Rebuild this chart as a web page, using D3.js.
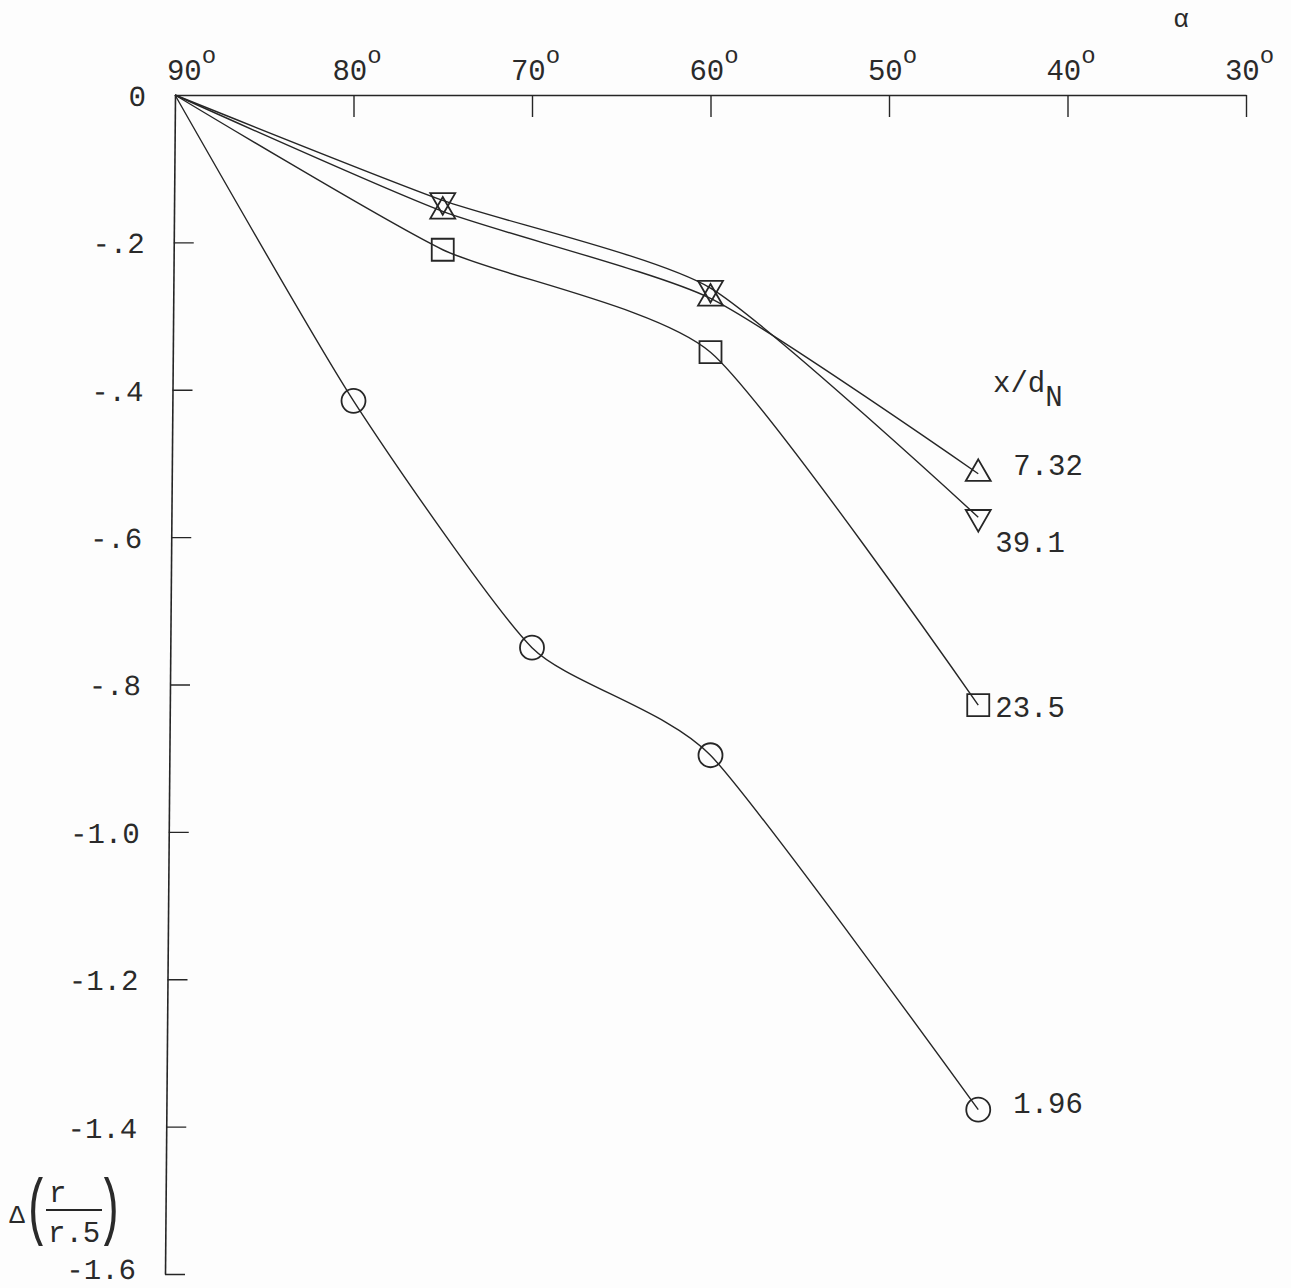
<!DOCTYPE html>
<html>
<head>
<meta charset="utf-8">
<script src="https://cdn.jsdelivr.net/npm/d3@7"></script>
<style>
  html, body { margin: 0; padding: 0; background: #fdfdfd; }
  svg { display: block; }
  text { font-family: "Liberation Mono", "DejaVu Sans Mono", monospace; fill: #2a2a2a; }
</style>
</head>
<body>
<svg id="chart" width="1291" height="1288"></svg>
<script>
// Angle ticks along the top axis (degrees) and value ticks on the left axis
const angleTicks = [90, 80, 70, 60, 50, 40, 30];
const valueTicks = [0, -0.2, -0.4, -0.6, -0.8, -1.0, -1.2, -1.4, -1.6];

// x/d_N stations and their measured Δ(r/r.5) against jet angle α
const seriesNames = ["1.96", "23.5", "7.32", "39.1"];
const seriesSymbols = ["circle", "square", "triangleUp", "triangleDown"];
const anglesCircle = [90, 80, 70, 60, 45];
const valuesCircle = [0, -0.415, -0.750, -0.896, -1.377];
const anglesSquare = [90, 75, 60, 45];
const valuesSquare = [0, -0.210, -0.349, -0.828];
const anglesUp = [90, 75, 60, 45];
const valuesUp = [0, -0.158, -0.276, -0.514];
const anglesDown = [90, 75, 60, 45];
const valuesDown = [0, -0.143, -0.262, -0.573];

const seriesAngles = [anglesCircle, anglesSquare, anglesUp, anglesDown];
const seriesValues = [valuesCircle, valuesSquare, valuesUp, valuesDown];

const svg = d3.select("#chart");
const ink = "#262626";

const x = d3.scaleLinear().domain([90, 30]).range([175, 1246]);
const y = d3.scaleLinear().domain([0, -1.6]).range([95, 1274]);

// ---- top (angle) axis: ticks hang below the line, labels above ----
const xAxis = d3.axisTop(x)
  .tickValues(angleTicks)
  .tickSizeInner(-22)
  .tickSizeOuter(0)
  .tickPadding(15)
  .tickFormat(d => d);

const gx = svg.append("g").attr("transform", `translate(0,${y(0)})`).call(xAxis);
gx.select(".domain").attr("stroke", ink).attr("stroke-width", 1.6);
gx.selectAll(".tick line").attr("stroke", ink).attr("stroke-width", 1.4)
  .filter(d => d === 90).remove();
gx.selectAll(".tick text")
  .attr("font-size", 29)
  .attr("font-family", "Liberation Mono")
  .attr("fill", "#333")
  .attr("text-anchor", "middle")
  .each(function (d) {
    const t = d3.select(this);
    t.text(null);
    t.attr("x", d === 90 ? 16 : 3);
    t.append("tspan").text(d);
    t.append("tspan").attr("font-size", 24).attr("dy", -17).text("o");
  });

svg.append("text")
  .attr("x", 1181).attr("y", 27)
  .attr("font-family", "Liberation Serif")
  .attr("font-size", 26)
  .attr("fill", "#888")
  .attr("text-anchor", "middle")
  .text("α");

// ---- left (value) axis: ticks point into the plot ----
const fmt = v => {
  if (v === 0) return "0";
  const a = Math.abs(v).toFixed(1);
  return "-" + (Math.abs(v) < 1 ? a.slice(1) : a);
};
const yAxis = d3.axisLeft(y)
  .tickValues(valueTicks)
  .tickSizeInner(-20)
  .tickSizeOuter(0)
  .tickPadding(29)
  .tickFormat(fmt);

// the printed axis leans a few pixels toward the bottom
const lean = Math.atan(-10 / (y(-1.6) - y(0))) * 180 / Math.PI;
const gy = svg.append("g")
  .attr("transform", `translate(${x(90)},${y(0)}) skewX(${lean}) translate(0,${-y(0)})`)
  .call(yAxis);
gy.select(".domain").attr("stroke", ink).attr("stroke-width", 1.6);
gy.selectAll(".tick line").attr("stroke", ink).attr("stroke-width", 1.4)
  .filter(d => d === 0).remove();
gy.selectAll(".tick text")
  .attr("font-size", 29)
  .attr("font-family", "Liberation Mono")
  .attr("fill", "#333")
  .attr("dy", d => d === -1.6 ? "0.17em" : "0.36em");

// y-axis title Δ(r / r.5); the tall parentheses are stretched vertically
const ty = svg.append("g");
ty.append("text").attr("x", 17).attr("y", 1223).attr("font-size", 26)
  .attr("font-family", "DejaVu Sans").attr("fill", "#333")
  .attr("text-anchor", "middle").text("Δ");
[["(", 37], [")", 110]].forEach(([ch, cx]) => {
  ty.append("g")
    .attr("transform", `translate(${cx},1212) scale(1,1.7)`)
    .append("text")
    .attr("y", 11.4)
    .attr("font-size", 44)
    .attr("font-family", "Liberation Serif")
    .attr("text-anchor", "middle")
    .text(ch);
});
ty.append("line").attr("x1", 46).attr("x2", 102).attr("y1", 1210).attr("y2", 1210)
  .attr("stroke", ink).attr("stroke-width", 2);
ty.append("text").attr("x", 49).attr("y", 1202).attr("font-size", 29)
  .attr("font-family", "Liberation Mono").text("r");
ty.append("text").attr("x", 48).attr("y", 1242).attr("font-size", 29)
  .attr("font-family", "Liberation Mono").text("r.5");

// ---- curves ----
const line = d3.line()
  .x(d => x(d[0]))
  .y(d => y(d[1]))
  .curve(d3.curveCardinal.tension(0.4));

const seriesData = seriesNames.map((name, i) => ({
  name,
  symbol: seriesSymbols[i],
  points: seriesAngles[i].map((a, j) => [a, seriesValues[i][j]])
}));

svg.append("g").selectAll("path")
  .data(seriesData)
  .join("path")
  .attr("d", d => line(d.points))
  .attr("fill", "none")
  .attr("stroke", ink)
  .attr("stroke-width", 1.4);

// ---- markers (no marker at the common origin) ----
const symbolOf = {
  circle: d3.symbol().type(d3.symbolCircle).size(Math.PI * 12 * 12),
  square: d3.symbol().type(d3.symbolSquare).size(22 * 22),
  triangleUp: d3.symbol().type(d3.symbolTriangle).size(270),
  triangleDown: d3.symbol().type(d3.symbolTriangle).size(270)
};

const markers = svg.append("g");
seriesData.forEach(s => {
  markers.selectAll(null)
    .data(s.points.filter(p => p[0] !== 90))
    .join("path")
    .attr("d", symbolOf[s.symbol]())
    .attr("transform", p => `translate(${x(p[0])},${y(p[1])})` + (s.symbol === "triangleDown" ? " rotate(180)" : ""))
    .attr("fill", "none")
    .attr("stroke", ink)
    .attr("stroke-width", 1.8);
});

// ---- series labels ----
const labelDx = { "1.96": 35, "23.5": 17, "7.32": 35, "39.1": 17 };
const labelDy = { "1.96": 3, "23.5": 12, "7.32": 1, "39.1": 35 };
svg.append("g").selectAll("text")
  .data(seriesData)
  .join("text")
  .attr("x", d => x(d.points[d.points.length - 1][0]) + labelDx[d.name])
  .attr("y", d => y(d.points[d.points.length - 1][1]) + labelDy[d.name])
  .attr("font-size", 29)
  .attr("fill", "#333")
  .text(d => d.name);

// legend heading x/d_N
const lh = svg.append("text").attr("x", 993).attr("y", 392).attr("font-size", 29).attr("fill", "#333");
lh.append("tspan").text("x/d");
lh.append("tspan").attr("dy", 14).text("N");
</script>
</body>
</html>
